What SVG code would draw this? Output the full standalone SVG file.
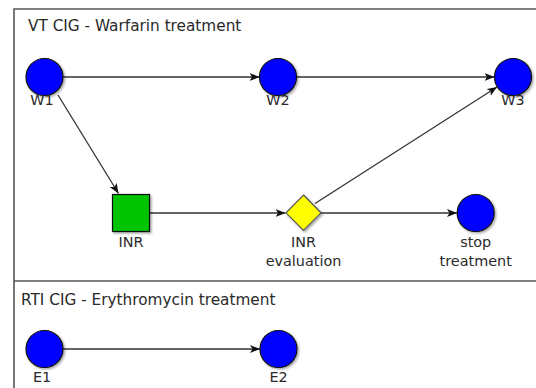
<svg xmlns="http://www.w3.org/2000/svg" width="536" height="388" viewBox="0 0 536 388">
<style>
text{font-family:"DejaVu Sans",Verdana,sans-serif;font-size:14.4px;fill:#2a2a2a}
.title{font-size:15.3px}
.lbl{text-anchor:middle}
.c{fill:#0000ff;stroke:#111;stroke-width:1.2;filter:url(#sh)}
.e{stroke:#333;stroke-width:1.3;fill:none;marker-end:url(#ah)}
.frame{stroke:#555;stroke-width:1.6;fill:none}
</style>
<defs>
<filter id="sh" x="-30%" y="-30%" width="160%" height="160%">
<feDropShadow dx="1.5" dy="1.5" stdDeviation="1" flood-color="#000" flood-opacity="0.35"/>
</filter>
<marker id="ah" viewBox="0 0 10 8" refX="10" refY="4" markerWidth="10" markerHeight="8" markerUnits="userSpaceOnUse" orient="auto">
<path d="M0,0 L10,4 L0,8 L2.5,4 z" fill="#111"/>
</marker>
</defs>
<rect width="536" height="388" fill="#fff"/>
<g id="frame">
<path class="frame" d="M14,388 V9 H536 M14,281 H536"/>
<text class="title" x="28" y="31">VT CIG - Warfarin treatment</text>
<text class="title" x="21" y="305">RTI CIG - Erythromycin treatment</text>
</g>
<g id="connectors">
<line class="e" x1="63" y1="77" x2="259.5" y2="77"/>
<line class="e" x1="296.5" y1="77" x2="494.5" y2="77"/>
<line class="e" x1="58" y1="95" x2="118.5" y2="193.5"/>
<line class="e" x1="315" y1="203.5" x2="497" y2="87"/>
<line class="e" x1="150" y1="213" x2="285.5" y2="213"/>
<line class="e" x1="321" y1="213" x2="457" y2="213"/>
<line class="e" x1="63" y1="349" x2="260" y2="349"/>
</g>
<g id="W1"><circle class="c" cx="44.5" cy="77" r="18.5"/><text class="lbl" x="42" y="105">W1</text></g>
<g id="W2"><circle class="c" cx="278" cy="77" r="18.5"/><text class="lbl" x="278" y="105">W2</text></g>
<g id="W3"><circle class="c" cx="513" cy="77" r="18.5"/><text class="lbl" x="513" y="105">W3</text></g>
<g id="INR"><rect x="112.5" y="194.5" width="37" height="37" fill="#00c400" stroke="#111" stroke-width="1.2" filter="url(#sh)"/><text class="lbl" x="131" y="247">INR</text></g>
<g id="INReval"><path d="M303.5,195 L321,212.8 L303.5,230.5 L286,212.8 z" fill="#ffff00" stroke="#555" stroke-width="1.2" filter="url(#sh)"/><text class="lbl" x="303.5" y="247">INR</text><text class="lbl" x="303.5" y="266">evaluation</text></g>
<g id="stop"><circle class="c" cx="475.7" cy="213" r="18.5"/><text class="lbl" x="475.7" y="247">stop</text><text class="lbl" x="475.7" y="266">treatment</text></g>
<g id="E1"><circle class="c" cx="44.5" cy="349" r="18.5"/><text class="lbl" x="42" y="382">E1</text></g>
<g id="E2"><circle class="c" cx="278.5" cy="349" r="18.5"/><text class="lbl" x="278.5" y="382">E2</text></g>
</svg>
